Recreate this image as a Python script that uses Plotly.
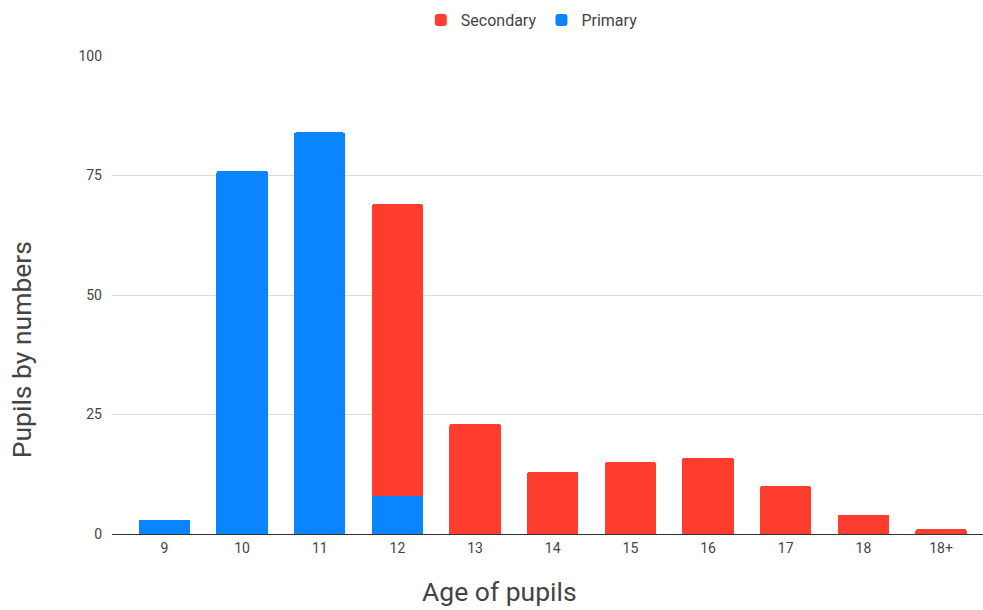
import plotly.graph_objects as go

ages = ["9", "10", "11", "12", "13", "14", "15", "16", "17", "18", "18+"]
primary = [3, 76, 84, 8, 0, 0, 0, 0, 0, 0, 0]
secondary = [0, 0, 0, 61, 23, 13, 15, 16, 10, 4, 1]

RED = "#ff3d2f"
BLUE = "#0a84ff"
FONT = "Roboto"
TEXT = "#444"

fig = go.Figure()
fig.add_trace(go.Bar(x=ages, y=primary, name="Primary",
                     marker=dict(color=BLUE, line=dict(width=0), cornerradius=2)))
fig.add_trace(go.Bar(x=ages, y=secondary, name="Secondary",
                     marker=dict(color=RED, line=dict(width=0), cornerradius=2)))

fig.update_layout(
    width=983, height=610,
    barmode="stack", bargap=0.34,
    plot_bgcolor="white", paper_bgcolor="white",
    margin=dict(l=112, r=0, t=56, b=76, autoexpand=False),
    font=dict(family=FONT, color=TEXT),
    legend=dict(orientation="h", x=0.482, xanchor="center", y=1.075,
                yanchor="middle", traceorder="reversed",
                font=dict(size=16, color=TEXT)),
    xaxis=dict(type="category", range=[-0.675, 10.54],
               showgrid=False, showline=False, zeroline=False,
               tickfont=dict(size=14, color=TEXT), ticks="", ticklabelstandoff=4),
    yaxis=dict(range=[0, 100], tickvals=[0, 25, 50, 75, 100],
               gridcolor="#dcdcdc", gridwidth=1,
               zeroline=True, zerolinecolor="#333", zerolinewidth=1,
               tickfont=dict(size=14, color=TEXT), ticks="", ticklabelstandoff=9),
    annotations=[
        dict(text="Age of pupils", x=0.445, y=-0.121, xref="paper", yref="paper",
             xanchor="center", yanchor="middle", showarrow=False,
             font=dict(size=26.5, color=TEXT)),
        dict(text="Pupils by numbers", x=-0.103, y=0.385, xref="paper", yref="paper",
             xanchor="center", yanchor="middle", showarrow=False, textangle=-90,
             font=dict(size=26.5, color=TEXT)),
    ],
)

fig.write_html("out.html")
